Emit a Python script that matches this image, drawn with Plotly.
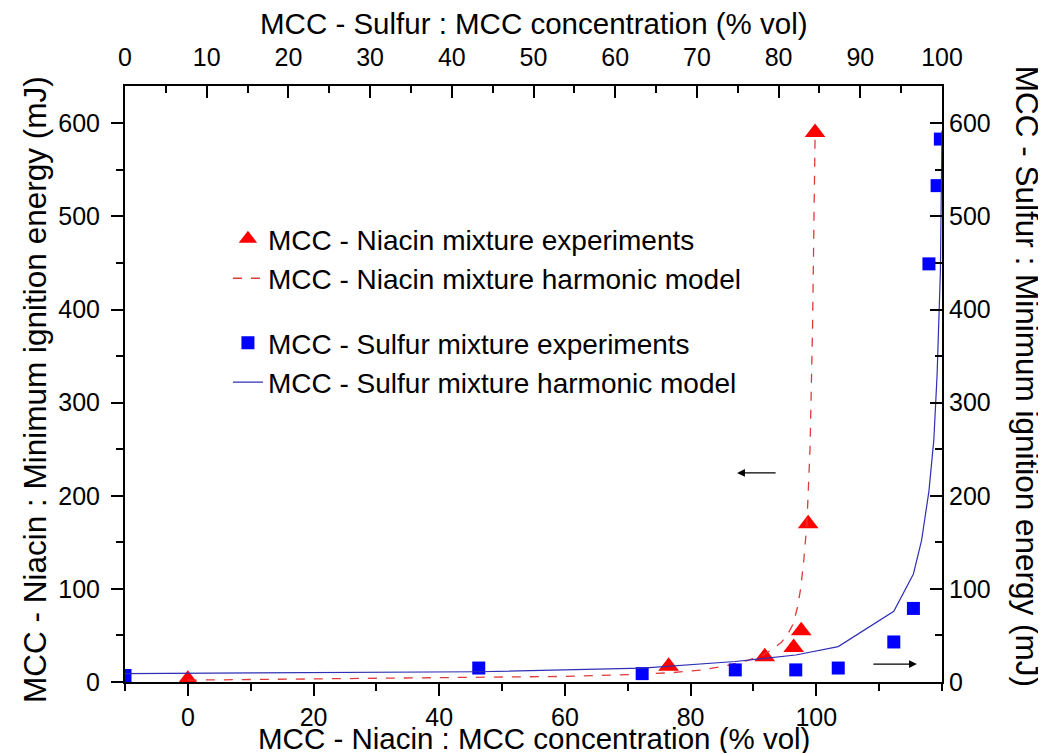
import plotly.graph_objects as go

# ---- data ----
niacin_exp_x = [0, 76.5, 91.8, 96.4, 97.6, 98.7, 99.8]
niacin_exp_y = [3, 17, 27, 37, 55, 170, 590]

niacin_model_x = [0, 30, 60, 70, 77, 82, 86, 89, 91.5, 93, 94.5, 95.5, 96.3, 97, 97.5, 98, 98.5, 99, 99.4, 99.8]
niacin_model_y = [2, 4, 6, 8, 10, 13, 18, 23, 29, 35, 43, 52, 62, 80, 100, 130, 170, 250, 380, 585]

sulfur_exp_x = [0, 43.3, 63.3, 74.7, 82.1, 87.3, 94.1, 96.5, 98.4, 99.4, 99.8]
sulfur_exp_y = [7, 15, 9, 13, 13, 15, 43, 79, 449, 533, 583]

sulfur_model_x = [0, 43.3, 63.3, 74.7, 82.1, 87.3, 94.1, 96.5, 97.5, 98.4, 99.0, 99.4, 99.8, 100]
sulfur_model_y = [9, 11, 15, 22, 29, 38, 76, 116, 152, 205, 260, 330, 440, 592]

bottom_ticks = [0, 20, 40, 60, 80, 100]
top_ticks = list(range(0, 101, 10))
y_ticks = list(range(0, 601, 100))

FONT = "Liberation Sans, Arial, sans-serif"

fig = go.Figure()
fig.add_trace(go.Scatter(x=niacin_exp_x, y=niacin_exp_y, mode="markers",
                         name="MCC - Niacin mixture experiments", legendgroup="n",
                         marker=dict(symbol="triangle-up", size=18, color="#ff0000"),
                         xaxis="x", yaxis="y"))
fig.add_trace(go.Scatter(x=niacin_model_x, y=niacin_model_y, mode="lines",
                         name="MCC - Niacin mixture harmonic model", legendgroup="n",
                         line=dict(color="#e03a3a", width=1.3, dash="dash"),
                         xaxis="x", yaxis="y"))
fig.add_trace(go.Scatter(x=sulfur_exp_x, y=sulfur_exp_y, mode="markers",
                         name="MCC - Sulfur mixture experiments", legendgroup="s",
                         marker=dict(symbol="square", size=13, color="#0000ff"),
                         xaxis="x2", yaxis="y2"))
fig.add_trace(go.Scatter(x=sulfur_model_x, y=sulfur_model_y, mode="lines",
                         name="MCC - Sulfur mixture harmonic model", legendgroup="s",
                         line=dict(color="#2f2fb5", width=1.2),
                         xaxis="x2", yaxis="y2"))

axis_common = dict(showgrid=False, zeroline=False, showline=True, linecolor="black",
                   linewidth=2, tickcolor="black", tickwidth=2,
                   tickfont=dict(family=FONT, size=25, color="black"))

fig.update_layout(
    width=1046, height=753,
    margin=dict(l=117, r=112, t=78, b=79),
    paper_bgcolor="white", plot_bgcolor="white",
    font=dict(family=FONT, color="black"),
    xaxis=dict(range=[-10, 120], tickvals=bottom_ticks, ticks="outside", ticklen=12,
               minor=dict(dtick=10, tick0=0, ticks="outside", ticklen=7, tickcolor="black", tickwidth=2),
               anchor="y", side="bottom", **axis_common),
    xaxis2=dict(range=[0, 100], tickvals=top_ticks, ticks="inside", ticklen=12,
                minor=dict(dtick=5, tick0=0, ticks="inside", ticklen=7, tickcolor="black", tickwidth=2),
                overlaying="x", side="top", anchor="y2", ticklabelstandoff=8, **axis_common),
    yaxis=dict(range=[0, 640], tickvals=y_ticks, ticks="outside", ticklen=12,
               minor=dict(dtick=50, tick0=0, ticks="outside", ticklen=7, tickcolor="black", tickwidth=2),
               anchor="x", side="left", ticklabelstandoff=6, **axis_common),
    yaxis2=dict(range=[0, 640], tickvals=y_ticks, ticks="inside", ticklen=12,
                minor=dict(dtick=50, tick0=0, ticks="inside", ticklen=7, tickcolor="black", tickwidth=2),
                overlaying="y", side="right", anchor="x", **axis_common),
    legend=dict(x=0.126, y=0.785, xanchor="left", yanchor="top",
                bgcolor="rgba(0,0,0,0)", traceorder="grouped", tracegroupgap=25,
                font=dict(family=FONT, size=28, color="black")),
    showlegend=True,
)

title_font = dict(family=FONT, size=29.5, color="black")
vtitle_font = dict(family=FONT, size=31.5, color="black")
fig.add_annotation(text="MCC - Niacin : MCC concentration (% vol)", xref="paper", yref="paper",
                   x=0.5, y=0, xanchor="center", yanchor="middle", yshift=-56,
                   showarrow=False, font=title_font)
fig.add_annotation(text="MCC - Sulfur : MCC concentration (% vol)", xref="paper", yref="paper",
                   x=0.5, y=1, xanchor="center", yanchor="middle", yshift=63,
                   showarrow=False, font=title_font)
fig.add_annotation(text="MCC - Niacin : Minimum ignition energy (mJ)", xref="paper", yref="paper",
                   x=0, y=0.49, xanchor="center", yanchor="middle", xshift=-90, textangle=-90,
                   showarrow=False, font=vtitle_font)
fig.add_annotation(text="MCC - Sulfur : Minimum ignition energy (mJ)", xref="paper", yref="paper",
                   x=1, y=0.514, xanchor="center", yanchor="middle", xshift=85, textangle=90,
                   showarrow=False, font=vtitle_font)

# direction arrows
fig.add_annotation(x=87.4, y=224.5, xref="x", yref="y", ax=40, ay=0, axref="pixel", ayref="pixel",
                   text="", showarrow=True, arrowhead=2, arrowsize=1.2, arrowwidth=1.3, arrowcolor="black")
fig.add_annotation(x=116, y=19.3, xref="x", yref="y", ax=-45, ay=0, axref="pixel", ayref="pixel",
                   text="", showarrow=True, arrowhead=2, arrowsize=1.2, arrowwidth=1.3, arrowcolor="black")

fig.write_html("out.html")
